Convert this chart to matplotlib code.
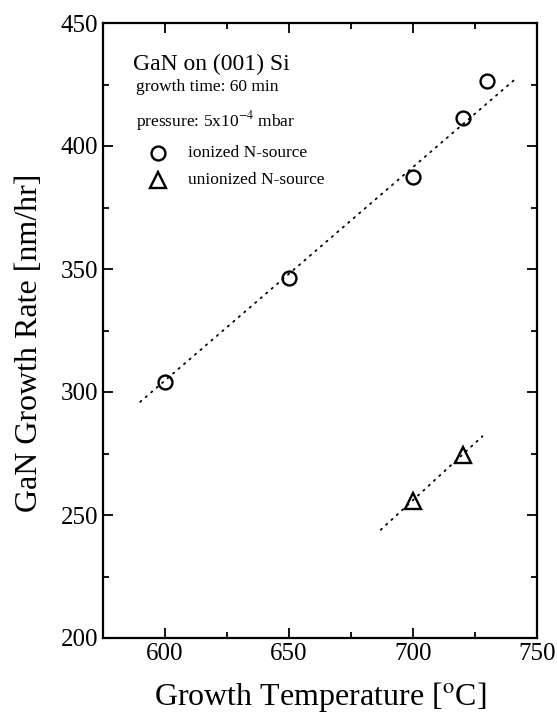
import matplotlib
matplotlib.use("Agg")
import matplotlib.pyplot as plt
from matplotlib.ticker import MultipleLocator

# Data
ion_temp = [600, 650, 700, 720, 730]
ion_rate = [304, 346.5, 387.5, 411.5, 426.5]
union_temp = [700, 720]
union_rate = [255.5, 274.5]
fit_ion_x = [590, 741]
fit_ion_y = [296, 427]
fit_union_x = [687, 728]
fit_union_y = [244, 282]

plt.rcParams['font.family'] = ['Liberation Serif', 'DejaVu Serif']
plt.rcParams['mathtext.fontset'] = 'stix'

fig = plt.figure(figsize=(5.57, 7.26), dpi=100)
ax = fig.add_axes([103/557, 1-638/726, (537-103)/557, (638-23)/726])

ax.plot(fit_ion_x, fit_ion_y, color='black', lw=1.3, linestyle=(0, (0.8, 3.2)), dash_capstyle='round')
ax.plot(fit_union_x, fit_union_y, color='black', lw=1.3, linestyle=(0, (0.8, 3.2)), dash_capstyle='round')
ax.plot(ion_temp, ion_rate, linestyle='none', marker='o', ms=10, mfc='none', mec='black', mew=1.7)
ax.plot(union_temp, union_rate, linestyle='none', marker='^', ms=11, mfc='none', mec='black', mew=1.7)

ax.set_xlim(575, 750)
ax.set_ylim(200, 450)
ax.xaxis.set_major_locator(MultipleLocator(50))
ax.xaxis.set_minor_locator(MultipleLocator(25))
ax.yaxis.set_major_locator(MultipleLocator(50))
ax.yaxis.set_minor_locator(MultipleLocator(25))
ax.tick_params(which='both', direction='in', top=True, right=True, width=1.3, labelsize=18)
ax.tick_params(which='major', length=7)
ax.tick_params(which='minor', length=4)
for s in ax.spines.values():
    s.set_linewidth(1.6)

ax.set_xlabel('Growth Temperature [$^{\\rm o}$C]', fontsize=23, labelpad=11)
ax.set_ylabel('GaN Growth Rate [nm/hr]', fontsize=23)
ax.yaxis.set_label_coords(-0.135, 0.48)

ax.text(587, 433, 'GaN on (001) Si', fontsize=17, va='center', ha='left')
ax.text(588.5, 424, 'growth time: 60 min', fontsize=12.5, va='center', ha='left')
ax.text(588.5, 410, 'pressure: 5x10$^{-4}$ mbar', fontsize=12.5, va='center', ha='left')
ax.plot([597.2], [397.2], linestyle='none', marker='o', ms=10, mfc='none', mec='black', mew=1.7)
ax.text(609.3, 397.2, 'ionized N-source', fontsize=12.5, va='center', ha='left')
ax.plot([597.2], [386.2], linestyle='none', marker='^', ms=11, mfc='none', mec='black', mew=1.7)
ax.text(609.3, 386.2, 'unionized N-source', fontsize=12.5, va='center', ha='left')

fig.savefig('out.png', dpi=100)
